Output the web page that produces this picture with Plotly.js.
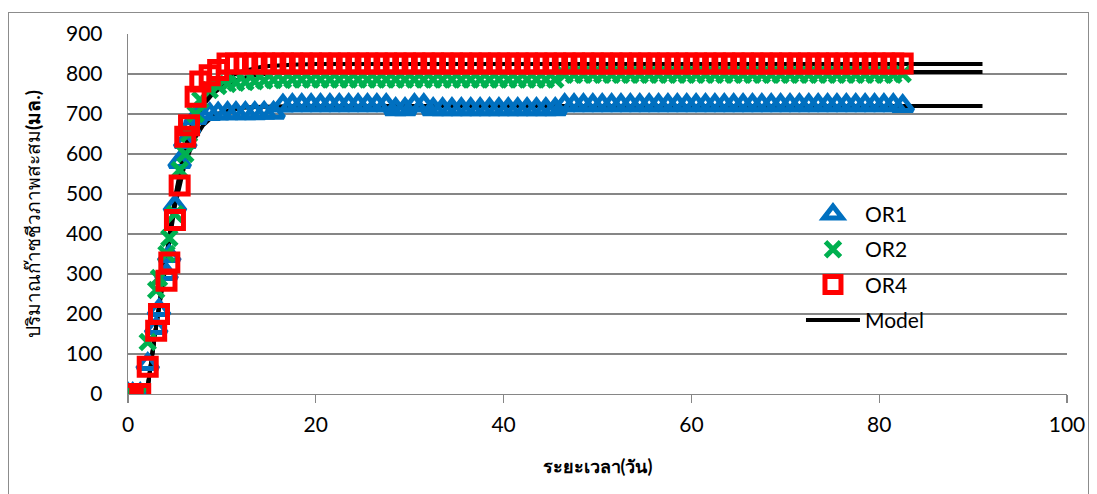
<!DOCTYPE html>
<html>
<head>
<meta charset="utf-8">
<script src="https://cdn.plot.ly/plotly-3.0.1.min.js"></script>
<style>
html,body{margin:0;padding:0;background:#fff;}
#wrap{position:relative;width:1097px;height:494px;overflow:hidden;}
#chart{width:1097px;height:494px;}
#frame{position:absolute;left:8px;top:12px;width:1081px;height:500px;border:1.5px solid #8c8c8c;pointer-events:none;box-sizing:border-box;}
</style>
</head>
<body>
<div id="wrap"><div id="chart"></div><div id="frame"></div></div>
<script>
// Sampling times (days)
const xDays = [0, 0.5, 1.3, 2.1, 3.0, 3.3, 4.1, 4.4, 5.0, 5.5, 6.1, 6.5, 7.2, 7.7, 8.7, 9.6, 10.6,
  11.5, 12.5, 13.5, 14.5, 15.5, 16.5, 17.5, 18.5, 19.5, 20.5, 21.5, 22.5, 23.5, 24.5, 25.5, 26.5,
  27.5, 28.5, 29.5, 30.5, 31.5, 32.5, 33.5, 34.5, 35.5, 36.5, 37.5, 38.5, 39.5, 40.5, 41.5, 42.5,
  43.5, 44.5, 45.5, 46.5, 47.5, 48.5, 49.5, 50.5, 51.5, 52.5, 53.5, 54.5, 55.5, 56.5, 57.5, 58.5,
  59.5, 60.5, 61.5, 62.5, 63.5, 64.5, 65.5, 66.5, 67.5, 68.5, 69.5, 70.5, 71.5, 72.5, 73.5, 74.5,
  75.5, 76.5, 77.5, 78.5, 79.5, 80.5, 81.5, 82.5];

// Cumulative biogas (ml)
const or1 = [0, 0, 0, 75, 165, 210, 300, 345, 470, 580, 630, 665, 690, 700, 700, 701, 702,
  702, 702, 702, 703, 703, 721, 722, 722, 722, 722, 722, 722, 722, 722, 722, 722,
  722, 712, 712, 722, 722, 712, 712, 712, 712, 712, 712, 712, 712, 712, 712, 712,
  712, 712, 712, 722, 722, 722, 722, 722, 722, 722, 722, 722, 722, 722, 722, 722,
  722, 722, 722, 722, 722, 722, 722, 722, 722, 722, 722, 722, 722, 722, 722, 722,
  722, 722, 722, 722, 722, 722, 722, 720];
const or2 = [0, 0, 0, 130, 260, 290, 350, 390, 450, 560, 600, 650, 700, 735, 760, 770, 775,
  778, 780, 782, 784, 785, 785, 786, 786, 786, 786, 786, 786, 786, 786, 786, 786,
  786, 786, 786, 786, 786, 786, 786, 786, 786, 786, 786, 786, 786, 786, 786, 786,
  786, 786, 786, 798, 798, 798, 798, 798, 798, 798, 798, 798, 798, 798, 798, 798,
  798, 798, 798, 798, 798, 798, 798, 798, 798, 798, 798, 798, 798, 798, 798, 798,
  798, 798, 798, 798, 798, 798, 798, 800];
const or4 = [0, 0, 0, 68, 158, 200, 283, 329, 435, 521, 643, 672, 743, 781, 797, 810, 826,
  826, 826, 826, 826, 826, 826, 826, 826, 826, 826, 826, 826, 826, 826, 826, 826,
  826, 826, 826, 826, 826, 826, 826, 826, 826, 826, 826, 826, 826, 826, 826, 826,
  826, 826, 826, 826, 826, 826, 826, 826, 826, 826, 826, 826, 826, 826, 826, 826,
  826, 826, 826, 826, 826, 826, 826, 826, 826, 826, 826, 826, 826, 826, 826, 826,
  826, 826, 826, 826, 826, 826, 826, 826];

// Model curves
const xModel = [0, 1, 2, 3, 4, 5, 6, 7, 8, 9, 10, 11, 12, 13, 14, 15, 16, 18, 20, 25, 30, 91];
const modelOR4 = [0, 0, 0, 170, 330, 490, 610, 690, 735, 762, 780, 795, 805, 812, 817, 820, 822, 824, 825, 825, 825, 825];
const modelOR2 = [0, 0, 0, 170, 330, 485, 600, 675, 722, 750, 768, 780, 789, 795, 799, 801, 803, 804, 805, 805, 805, 805];
const modelOR1 = [0, 0, 0, 170, 325, 470, 570, 635, 672, 693, 705, 711, 715, 717, 718, 719, 720, 720, 720, 720, 720, 720];

const seriesNames = ['OR1', 'OR2', 'OR4', 'Model'];
const yTickVals = [0, 100, 200, 300, 400, 500, 600, 700, 800, 900];
const xTickVals = [0, 20, 40, 60, 80, 100];
const xTitle = '<b>ระยะเวลา(วัน)</b>';
const yTitle = 'ปริมาณก๊าซชีวภาพสะสม<b>(มล.)</b>';

const FONT = 'Lato, "Noto Sans", "DejaVu Sans", sans-serif';

function modelTrace(y, show) {
  return {x: xModel, y: y, type: 'scatter', mode: 'lines', name: seriesNames[3],
    line: {color: '#000000', width: 4}, showlegend: show, legendrank: 4, legendgroup: 'g4'};
}

const traces = [
  modelTrace(modelOR1, true),
  modelTrace(modelOR2, false),
  modelTrace(modelOR4, false),
  {x: xDays, y: or1, type: 'scatter', mode: 'markers', name: seriesNames[0], legendrank: 1, legendgroup: 'g1',
    marker: {symbol: 'triangle-up-open', size: 18, color: '#0070C0', line: {color: '#0070C0', width: 5}}},
  {x: xDays, y: or2, type: 'scatter', mode: 'markers', name: seriesNames[1], legendrank: 2, legendgroup: 'g2',
    marker: {symbol: 'x-thin-open', size: 15, color: '#00B050', line: {color: '#00B050', width: 5}}},
  {x: xDays, y: or4, type: 'scatter', mode: 'markers', name: seriesNames[2], legendrank: 3, legendgroup: 'g3',
    marker: {symbol: 'square-open', size: 17, color: '#FF0000', line: {color: '#FF0000', width: 5}}}
];

const layout = {
  width: 1097, height: 494,
  margin: {l: 128, r: 30, t: 34, b: 100},
  paper_bgcolor: '#ffffff', plot_bgcolor: '#ffffff',
  font: {family: FONT, color: '#000000', size: 21},
  showlegend: true,
  legend: {x: 0.7167, y: 0.556, xanchor: 'left', yanchor: 'top', traceorder: 'grouped',
    tracegroupgap: 5, font: {family: FONT, size: 21, color: '#000'}, bgcolor: 'rgba(0,0,0,0)', itemwidth: 54},
  xaxis: {
    range: [0, 100], tickvals: xTickVals, ticktext: xTickVals.map(String),
    showgrid: false, zeroline: false, showline: true, linecolor: '#868686', linewidth: 1.3,
    ticks: 'outside', ticklen: 8, tickcolor: '#868686', tickwidth: 1.3,
    tickfont: {family: FONT, size: 21}, ticklabelstandoff: 3,
    title: {text: xTitle, font: {family: FONT, size: 18}, standoff: 26}
  },
  yaxis: {
    range: [0, 900], tickvals: yTickVals, ticktext: yTickVals.map(String),
    showgrid: true, gridcolor: '#868686', gridwidth: 1.3, zeroline: false,
    showline: true, linecolor: '#868686', linewidth: 1.3, ticks: '',
    tickfont: {family: FONT, size: 21}, ticklabelstandoff: 20,
    title: {text: yTitle, font: {family: FONT, size: 19}, standoff: 20}
  }
};

Plotly.newPlot('chart', traces, layout, {displayModeBar: false, staticPlot: true});
</script>
</body>
</html>
